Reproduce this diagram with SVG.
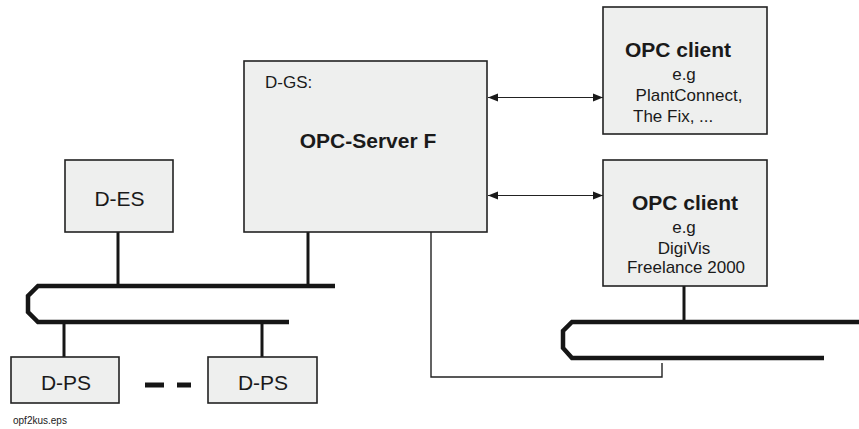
<svg xmlns="http://www.w3.org/2000/svg" width="859" height="429" viewBox="0 0 859 429">
<defs>
<marker id="ah" viewBox="0 0 10 10" refX="10" refY="5" markerWidth="10" markerHeight="10" markerUnits="userSpaceOnUse" orient="auto-start-reverse">
<path d="M0,1 L10,5 L0,9 Z" fill="#1a1a1a"/>
</marker>
<style>
.box{fill:#eeefee;stroke:#222;stroke-width:1.6}
.t{font-family:"Liberation Sans",Arial,sans-serif;fill:#1a1a1a}
.b{font-weight:bold}
.bus{fill:none;stroke:#161616;stroke-width:4.5}
.drop{stroke:#161616;stroke-width:3;fill:none}
.thin{stroke:#222;stroke-width:1.4;fill:none}
.arr{stroke:#222;stroke-width:1;fill:none;marker-start:url(#ah);marker-end:url(#ah)}
</style>
</defs>
<rect width="859" height="429" fill="#fff"/>
<g id="connectors">
<path class="bus" d="M335,286 H38 L28,296 V312 L38,322 H289"/>
<path class="bus" d="M859,322 H572 L563,331 V348 L572,358 H824"/>
<line class="drop" x1="118" y1="232" x2="118" y2="286"/>
<line class="drop" x1="308" y1="232" x2="308" y2="286"/>
<line class="drop" x1="64" y1="322" x2="64" y2="357"/>
<line class="drop" x1="262" y1="322" x2="262" y2="357"/>
<line class="drop" x1="684" y1="286" x2="684" y2="322"/>
<path class="thin" d="M431,232 V377 H662 V363"/>
<line class="arr" x1="488" y1="97.5" x2="603" y2="97.5"/>
<line class="arr" x1="488" y1="195.5" x2="603" y2="195.5"/>
<line x1="145" y1="385" x2="164" y2="385" stroke="#161616" stroke-width="5"/>
<line x1="177" y1="385" x2="191" y2="385" stroke="#161616" stroke-width="5"/>
</g>
<g id="server">
<rect class="box" x="244" y="61" width="243" height="171" stroke-width="2"/>
<text class="t" x="265" y="88" font-size="17">D-GS:</text>
<text class="t b" x="368" y="148" font-size="21" text-anchor="middle">OPC-Server F</text>
</g>
<g id="client1">
<rect class="box" x="603" y="7" width="164" height="127"/>
<text class="t b" x="678" y="57" font-size="21" text-anchor="middle">OPC client</text>
<text class="t" x="684" y="80" font-size="17" text-anchor="middle">e.g</text>
<text class="t" x="689" y="101" font-size="17" text-anchor="middle">PlantConnect,</text>
<text class="t" x="633" y="122" font-size="17">The Fix, ...</text>
</g>
<g id="client2">
<rect class="box" x="603" y="160" width="164" height="126"/>
<text class="t b" x="685" y="210" font-size="21" text-anchor="middle">OPC client</text>
<text class="t" x="684" y="233" font-size="17" text-anchor="middle">e.g</text>
<text class="t" x="684" y="254" font-size="17" text-anchor="middle">DigiVis</text>
<text class="t" x="686" y="273" font-size="17" text-anchor="middle">Freelance 2000</text>
</g>
<g id="des">
<rect class="box" x="65" y="160" width="108" height="72"/>
<text class="t" x="119.5" y="206" font-size="21" text-anchor="middle">D-ES</text>
</g>
<g id="dps1">
<rect class="box" x="11" y="357" width="108" height="46"/>
<text class="t" x="66" y="390" font-size="21" text-anchor="middle">D-PS</text>
</g>
<g id="dps2">
<rect class="box" x="208" y="357" width="109" height="46"/>
<text class="t" x="263" y="390" font-size="21" text-anchor="middle">D-PS</text>
</g>
<text class="t" x="13" y="424" font-size="10">opf2kus.eps</text>
</svg>
